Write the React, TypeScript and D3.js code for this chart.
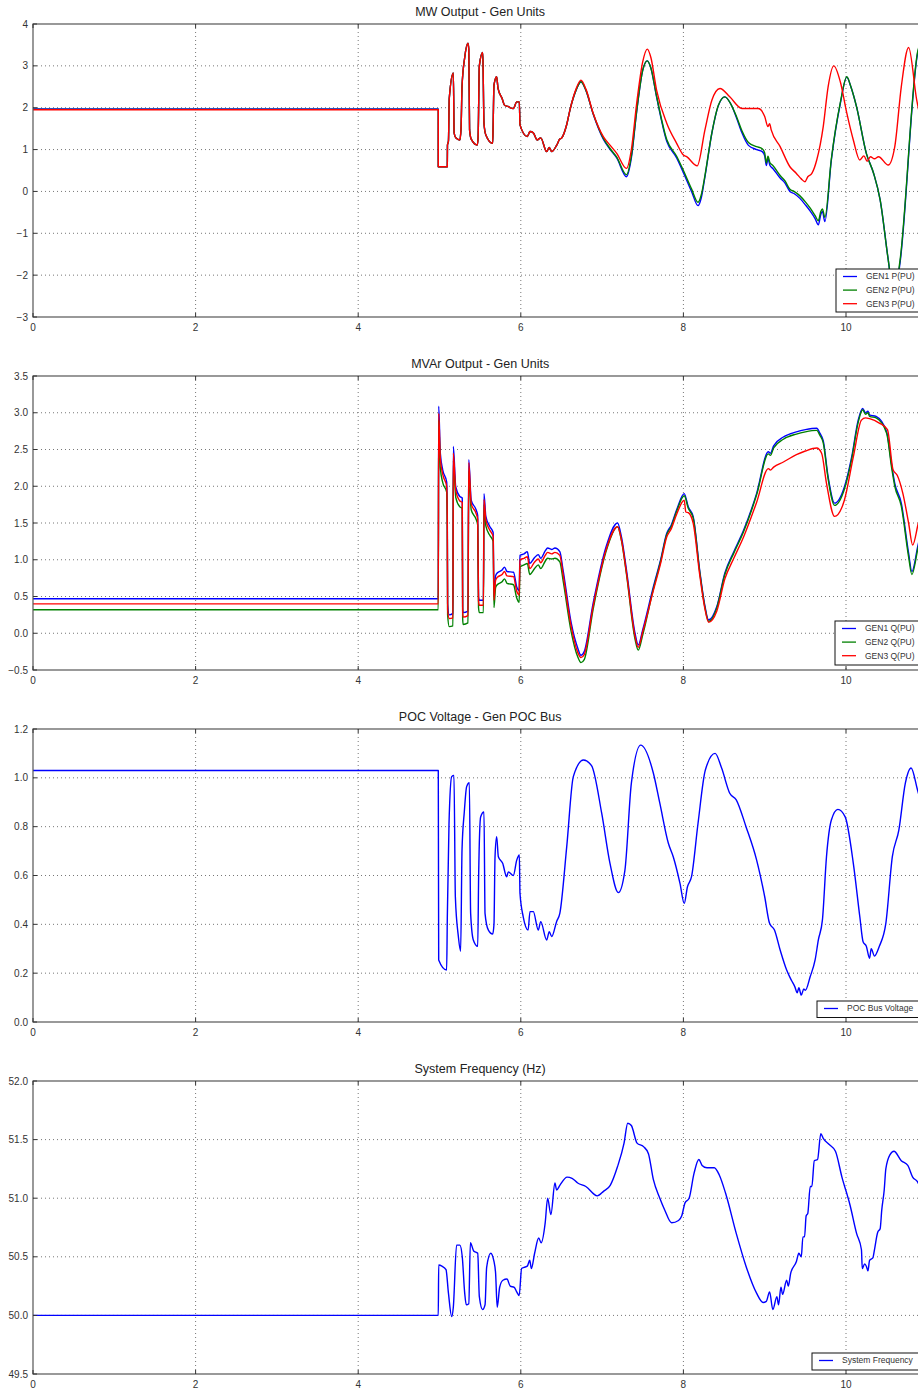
import React from 'react'
import * as d3 from 'd3'

type Pt = [number, number]

// time axis ticks (s)
const xTicks = [0, 2, 4, 6, 8, 10]

// MW output: during the fault burst all three units overlap
const pFault: Pt[] = [
  [4.985, 0.59], [5.096, 0.59], [5.098, 1.11], [5.11, 1.2], [5.12, 2.22], [5.17, 2.83], [5.18, 1.4],
  [5.2, 1.28], [5.25, 1.23], [5.265, 1.5], [5.277, 2.5], [5.31, 3.2], [5.35, 3.54], [5.36, 3.4],
  [5.37, 1.47], [5.39, 1.25], [5.465, 1.11], [5.475, 1.3], [5.49, 3.0], [5.53, 3.32], [5.535, 3.1],
  [5.547, 1.63], [5.57, 1.35], [5.654, 1.15], [5.66, 1.6], [5.67, 2.54], [5.703, 2.74], [5.72, 2.46],
  [5.77, 2.22], [5.8, 2.06], [5.84, 2.03], [5.908, 1.98], [5.95, 2.14], [5.982, 2.14], [5.99, 1.59],
  [6.08, 1.31], [6.113, 1.43], [6.154, 1.4], [6.2, 1.23], [6.245, 1.28], [6.318, 0.95], [6.35, 1.05],
  [6.38, 0.95], [6.44, 1.1], [6.48, 1.25], [6.5, 1.27], [6.565, 1.6], [6.605, 1.95],
]

const gen1P: Pt[] = [
  [0, 1.97], [4.985, 1.97], ...pFault,
  [6.68, 2.42], [6.74, 2.62], [6.8, 2.42], [6.89, 1.85], [7.015, 1.25], [7.1, 1.0], [7.18, 0.8],
  [7.3, 0.35], [7.36, 0.8], [7.425, 1.9], [7.5, 2.9], [7.556, 3.12], [7.6, 2.95], [7.67, 2.26],
  [7.795, 1.2], [7.917, 0.8], [8.0, 0.45], [8.1, 0.0], [8.18, -0.34], [8.22, -0.15], [8.265, 0.35],
  [8.35, 1.39], [8.43, 2.05], [8.51, 2.26], [8.58, 2.1], [8.655, 1.75], [8.72, 1.4], [8.8, 1.1],
  [8.9, 1.0], [8.97, 0.95], [9.0, 0.85], [9.02, 0.62], [9.04, 0.78], [9.065, 0.62], [9.1, 0.55],
  [9.19, 0.32], [9.25, 0.2], [9.31, 0.0], [9.36, -0.05], [9.43, -0.16], [9.5, -0.32], [9.56, -0.47],
  [9.62, -0.65], [9.66, -0.8], [9.69, -0.55], [9.71, -0.48], [9.74, -0.72], [9.82, 0.75], [9.93, 2.1],
  [10.01, 2.73], [10.06, 2.5], [10.13, 2.02], [10.25, 0.91], [10.34, 0.43], [10.42, -0.2],
  [10.52, -1.64], [10.59, -2.55], [10.665, -1.7], [10.886, 3.34], [11, 3.75],
]

const gen2P: Pt[] = [
  [0, 1.96], [4.985, 1.96], ...pFault,
  [6.68, 2.42], [6.74, 2.62], [6.8, 2.42], [6.89, 1.86], [7.015, 1.27], [7.1, 1.02], [7.18, 0.82],
  [7.3, 0.4], [7.36, 0.85], [7.425, 1.92], [7.5, 2.9], [7.556, 3.12], [7.6, 2.95], [7.67, 2.28],
  [7.795, 1.24], [7.917, 0.84], [8.0, 0.5], [8.1, 0.06], [8.18, -0.26], [8.22, -0.08], [8.265, 0.38],
  [8.35, 1.4], [8.43, 2.06], [8.51, 2.26], [8.58, 2.1], [8.655, 1.78], [8.72, 1.45], [8.8, 1.17],
  [8.9, 1.07], [8.97, 1.02], [9.0, 0.92], [9.02, 0.68], [9.04, 0.84], [9.065, 0.68], [9.1, 0.62],
  [9.19, 0.38], [9.25, 0.25], [9.31, 0.05], [9.36, 0.0], [9.43, -0.1], [9.5, -0.25], [9.56, -0.4],
  [9.62, -0.58], [9.66, -0.7], [9.69, -0.48], [9.71, -0.42], [9.74, -0.62], [9.82, 0.78], [9.93, 2.12],
  [10.01, 2.74], [10.06, 2.5], [10.13, 2.02], [10.25, 0.91], [10.34, 0.43], [10.42, -0.2],
  [10.52, -1.64], [10.59, -2.5], [10.665, -1.64], [10.886, 3.38], [11, 3.8],
]

const gen3P: Pt[] = [
  [0, 1.95], [4.985, 1.95], ...pFault,
  [6.68, 2.45], [6.74, 2.66], [6.8, 2.45], [6.89, 1.87], [7.015, 1.31], [7.1, 1.1], [7.18, 0.91],
  [7.3, 0.55], [7.36, 1.0], [7.425, 2.1], [7.5, 3.1], [7.556, 3.4], [7.6, 3.2], [7.67, 2.42],
  [7.795, 1.63], [7.917, 1.15], [8.0, 0.87], [8.04, 0.83], [8.17, 0.61], [8.265, 1.47], [8.35, 2.18],
  [8.45, 2.46], [8.57, 2.26], [8.72, 1.98], [8.92, 1.98], [9.0, 1.79], [9.04, 1.55], [9.06, 1.62],
  [9.08, 1.47], [9.19, 1.07], [9.31, 0.59], [9.39, 0.43], [9.45, 0.3], [9.495, 0.23], [9.53, 0.35],
  [9.58, 0.43], [9.64, 0.75], [9.72, 1.55], [9.78, 2.5], [9.85, 3.0], [9.93, 2.62], [10.01, 1.87],
  [10.09, 1.23], [10.17, 0.75], [10.22, 0.85], [10.26, 0.72], [10.3, 0.83], [10.35, 0.78], [10.4, 0.83],
  [10.52, 0.63], [10.6, 1.07], [10.68, 2.5], [10.77, 3.44], [10.87, 2.18], [10.95, 1.5], [11, 1.2],
]

// MVAr output
const gen1Q: Pt[] = [
  [0, 0.47], [4.985, 0.47], [4.99, 3.09], [5.01, 2.45], [5.04, 2.22], [5.088, 2.06], [5.096, 1.6],
  [5.1, 0.4], [5.12, 0.25], [5.165, 0.27], [5.17, 2.54], [5.2, 1.99], [5.25, 1.86], [5.28, 1.84],
  [5.285, 0.35], [5.29, 0.28], [5.35, 0.3], [5.36, 2.36], [5.39, 1.81], [5.45, 1.68], [5.47, 1.6],
  [5.48, 0.5], [5.49, 0.45], [5.54, 0.45], [5.547, 1.9], [5.57, 1.59], [5.62, 1.45], [5.66, 1.37],
  [5.67, 0.5], [5.69, 0.78], [5.71, 0.82], [5.77, 0.86], [5.8, 0.9], [5.83, 0.84], [5.91, 0.83],
  [5.95, 0.63], [5.98, 0.58], [5.99, 1.06], [6.04, 1.08], [6.08, 1.11], [6.11, 0.95], [6.17, 1.03],
  [6.215, 1.07], [6.245, 1.02], [6.3, 1.12], [6.33, 1.16], [6.38, 1.14], [6.42, 1.16], [6.48, 1.11],
  [6.52, 0.86], [6.62, 0.14], [6.7, -0.2], [6.74, -0.3], [6.78, -0.25], [6.89, 0.41], [7.05, 1.18],
  [7.19, 1.5], [7.24, 1.3], [7.3, 0.86], [7.405, 0.0], [7.445, -0.16], [7.5, 0.05], [7.63, 0.63],
  [7.72, 1.0], [7.795, 1.36], [7.85, 1.47], [7.917, 1.68], [8.01, 1.9], [8.06, 1.72], [8.12, 1.59],
  [8.2, 0.86], [8.26, 0.4], [8.31, 0.18], [8.41, 0.36], [8.51, 0.82], [8.62, 1.11], [8.74, 1.4],
  [8.9, 1.9], [9.045, 2.47], [9.07, 2.45], [9.11, 2.55], [9.23, 2.67], [9.39, 2.74], [9.5, 2.77],
  [9.64, 2.79], [9.68, 2.72], [9.72, 2.62], [9.78, 2.13], [9.86, 1.77], [9.98, 1.99], [10.07, 2.4],
  [10.15, 2.9], [10.205, 3.06], [10.24, 3.0], [10.27, 3.02], [10.29, 2.97], [10.37, 2.95], [10.5, 2.74],
  [10.56, 2.3], [10.6, 2.04], [10.68, 1.77], [10.77, 1.09], [10.81, 0.84], [10.89, 1.22], [11, 1.6],
]

const gen2Q: Pt[] = [
  [0, 0.32], [4.985, 0.32], [4.99, 2.9], [5.01, 2.25], [5.04, 2.05], [5.088, 1.92], [5.096, 1.4],
  [5.1, 0.25], [5.12, 0.09], [5.165, 0.1], [5.17, 2.35], [5.2, 1.85], [5.25, 1.72], [5.28, 1.7],
  [5.285, 0.2], [5.29, 0.12], [5.35, 0.14], [5.36, 2.2], [5.39, 1.68], [5.45, 1.55], [5.47, 1.47],
  [5.48, 0.35], [5.49, 0.28], [5.54, 0.28], [5.547, 1.75], [5.57, 1.46], [5.62, 1.33], [5.66, 1.25],
  [5.67, 0.35], [5.69, 0.62], [5.71, 0.66], [5.77, 0.7], [5.8, 0.74], [5.83, 0.68], [5.91, 0.66],
  [5.95, 0.48], [5.98, 0.42], [5.99, 0.9], [6.04, 0.93], [6.08, 0.95], [6.11, 0.8], [6.17, 0.88],
  [6.215, 0.93], [6.245, 0.88], [6.3, 0.98], [6.33, 1.02], [6.38, 1.01], [6.42, 1.02], [6.48, 0.97],
  [6.52, 0.72], [6.62, 0.02], [6.7, -0.32], [6.74, -0.4], [6.78, -0.36], [6.89, 0.33], [7.05, 1.12],
  [7.19, 1.45], [7.24, 1.25], [7.3, 0.8], [7.405, -0.08], [7.445, -0.23], [7.5, -0.02], [7.63, 0.6],
  [7.72, 0.98], [7.795, 1.34], [7.85, 1.45], [7.917, 1.66], [8.01, 1.87], [8.06, 1.7], [8.12, 1.57],
  [8.2, 0.84], [8.26, 0.38], [8.31, 0.16], [8.41, 0.34], [8.51, 0.8], [8.62, 1.09], [8.74, 1.38],
  [8.9, 1.88], [9.045, 2.44], [9.07, 2.42], [9.11, 2.52], [9.23, 2.64], [9.39, 2.71], [9.5, 2.74],
  [9.64, 2.76], [9.68, 2.69], [9.72, 2.59], [9.78, 2.1], [9.86, 1.74], [9.98, 1.96], [10.07, 2.37],
  [10.15, 2.87], [10.205, 3.04], [10.24, 2.98], [10.27, 3.0], [10.29, 2.95], [10.37, 2.93], [10.5, 2.72],
  [10.56, 2.26], [10.6, 2.0], [10.68, 1.73], [10.77, 1.04], [10.81, 0.8], [10.89, 1.18], [11, 1.55],
]

const gen3Q: Pt[] = [
  [0, 0.4], [4.985, 0.4], [4.99, 2.99], [5.01, 2.38], [5.04, 2.16], [5.088, 2.0], [5.096, 1.5],
  [5.1, 0.32], [5.12, 0.2], [5.165, 0.21], [5.17, 2.45], [5.2, 1.94], [5.25, 1.8], [5.28, 1.78],
  [5.285, 0.3], [5.29, 0.22], [5.35, 0.24], [5.36, 2.32], [5.39, 1.76], [5.45, 1.63], [5.47, 1.55],
  [5.48, 0.44], [5.49, 0.38], [5.54, 0.38], [5.547, 1.82], [5.57, 1.54], [5.62, 1.4], [5.66, 1.32],
  [5.67, 0.45], [5.69, 0.72], [5.71, 0.76], [5.77, 0.8], [5.8, 0.84], [5.83, 0.78], [5.91, 0.77],
  [5.95, 0.57], [5.98, 0.52], [5.99, 1.0], [6.04, 1.02], [6.08, 1.04], [6.11, 0.88], [6.17, 0.97],
  [6.215, 1.01], [6.245, 0.96], [6.3, 1.06], [6.33, 1.1], [6.38, 1.08], [6.42, 1.1], [6.48, 1.06],
  [6.52, 0.8], [6.62, 0.09], [6.7, -0.26], [6.74, -0.33], [6.78, -0.29], [6.89, 0.37], [7.05, 1.14],
  [7.19, 1.45], [7.24, 1.26], [7.3, 0.82], [7.405, -0.04], [7.445, -0.19], [7.5, 0.02], [7.63, 0.58],
  [7.72, 0.95], [7.795, 1.31], [7.85, 1.42], [7.917, 1.62], [8.01, 1.81], [8.03, 1.65], [8.06, 1.64],
  [8.12, 1.5], [8.2, 0.8], [8.26, 0.36], [8.31, 0.15], [8.41, 0.3], [8.51, 0.74], [8.62, 1.02],
  [8.74, 1.31], [8.9, 1.78], [9.045, 2.24], [9.07, 2.22], [9.11, 2.26], [9.23, 2.33], [9.39, 2.43],
  [9.5, 2.48], [9.64, 2.52], [9.7, 2.45], [9.76, 2.04], [9.86, 1.59], [9.98, 1.81], [10.09, 2.4],
  [10.19, 2.9], [10.24, 2.93], [10.29, 2.92], [10.41, 2.86], [10.51, 2.77], [10.58, 2.22], [10.63, 2.15],
  [10.7, 1.9], [10.77, 1.5], [10.82, 1.2], [10.89, 1.5], [11, 1.9],
]

// POC bus voltage (pu)
const pocVolt: Pt[] = [
  [0, 1.03], [4.985, 1.03], [4.99, 0.254], [5.088, 0.213], [5.096, 0.425], [5.117, 0.814], [5.15, 1.005],
  [5.178, 1.01], [5.195, 0.513], [5.232, 0.35], [5.26, 0.29], [5.277, 0.705], [5.305, 0.86],
  [5.334, 0.964], [5.367, 0.98], [5.383, 0.445], [5.416, 0.336], [5.47, 0.31], [5.482, 0.61],
  [5.506, 0.84], [5.547, 0.86], [5.56, 0.445], [5.6, 0.377], [5.654, 0.36], [5.67, 0.4], [5.683, 0.677],
  [5.703, 0.759], [5.724, 0.677], [5.777, 0.65], [5.826, 0.595], [5.847, 0.615], [5.908, 0.6],
  [5.95, 0.663], [5.982, 0.684], [5.99, 0.527], [6.03, 0.431], [6.09, 0.377], [6.113, 0.452],
  [6.154, 0.452], [6.215, 0.377], [6.245, 0.411], [6.318, 0.336], [6.35, 0.37], [6.38, 0.35],
  [6.44, 0.411], [6.48, 0.445], [6.565, 0.718], [6.646, 1.005], [6.77, 1.073], [6.87, 1.05],
  [6.995, 0.855], [7.097, 0.65], [7.2, 0.53], [7.28, 0.62], [7.36, 0.978], [7.475, 1.134], [7.63, 1.02],
  [7.71, 0.896], [7.815, 0.732], [7.875, 0.677], [7.958, 0.568], [8.01, 0.486], [8.05, 0.554],
  [8.1, 0.595], [8.18, 0.814], [8.27, 1.032], [8.39, 1.1], [8.47, 1.04], [8.57, 0.937], [8.65, 0.91],
  [8.77, 0.8], [8.9, 0.664], [9.0, 0.513], [9.06, 0.404], [9.12, 0.377], [9.19, 0.295], [9.27, 0.213],
  [9.33, 0.17], [9.37, 0.145], [9.4, 0.12], [9.42, 0.14], [9.45, 0.11], [9.48, 0.135], [9.5, 0.13],
  [9.56, 0.186], [9.62, 0.254], [9.66, 0.336], [9.71, 0.418], [9.76, 0.677], [9.82, 0.827],
  [9.9, 0.871], [9.99, 0.84], [10.09, 0.65], [10.17, 0.431], [10.21, 0.329], [10.25, 0.31],
  [10.29, 0.261], [10.31, 0.3], [10.35, 0.27], [10.41, 0.31], [10.49, 0.404], [10.57, 0.677],
  [10.65, 0.786], [10.73, 0.978], [10.8, 1.04], [10.88, 0.95], [11, 0.8],
]

// System frequency (Hz)
const sysFreq: Pt[] = [
  [0, 50.0], [4.985, 50.0], [4.99, 50.43], [5.03, 50.42], [5.08, 50.39], [5.11, 50.19], [5.15, 49.99],
  [5.17, 50.07], [5.21, 50.6], [5.25, 50.6], [5.28, 50.5], [5.31, 50.19], [5.33, 50.09], [5.36, 50.1],
  [5.38, 50.62], [5.42, 50.55], [5.47, 50.53], [5.49, 50.16], [5.53, 50.05], [5.56, 50.09],
  [5.58, 50.41], [5.63, 50.53], [5.67, 50.46], [5.69, 50.36], [5.71, 50.07], [5.74, 50.24],
  [5.78, 50.3], [5.83, 50.31], [5.87, 50.25], [5.92, 50.24], [5.95, 50.2], [5.98, 50.17], [6.01, 50.4],
  [6.04, 50.41], [6.08, 50.42], [6.11, 50.47], [6.13, 50.4], [6.17, 50.53], [6.22, 50.66],
  [6.25, 50.62], [6.3, 50.79], [6.33, 51.0], [6.37, 50.86], [6.42, 51.13], [6.44, 51.07],
  [6.48, 51.11], [6.57, 51.18], [6.63, 51.17], [6.7, 51.13], [6.8, 51.1], [6.94, 51.02], [7.02, 51.06],
  [7.1, 51.11], [7.19, 51.27], [7.27, 51.47], [7.315, 51.64], [7.36, 51.62], [7.43, 51.47],
  [7.51, 51.44], [7.57, 51.38], [7.63, 51.16], [7.71, 51.0], [7.77, 50.9], [7.855, 50.79],
  [7.94, 50.81], [7.98, 50.85], [8.02, 50.96], [8.07, 51.0], [8.13, 51.21], [8.19, 51.33],
  [8.23, 51.28], [8.29, 51.26], [8.38, 51.26], [8.44, 51.2], [8.52, 51.04], [8.65, 50.7],
  [8.77, 50.42], [8.9, 50.19], [8.98, 50.11], [9.02, 50.12], [9.06, 50.2], [9.1, 50.05], [9.15, 50.16],
  [9.17, 50.09], [9.2, 50.24], [9.22, 50.18], [9.27, 50.3], [9.29, 50.25], [9.32, 50.36],
  [9.39, 50.46], [9.42, 50.53], [9.45, 50.5], [9.47, 50.67], [9.49, 50.67], [9.51, 50.85],
  [9.53, 50.87], [9.56, 51.1], [9.58, 51.1], [9.61, 51.32], [9.65, 51.33], [9.69, 51.55],
  [9.72, 51.51], [9.79, 51.46], [9.87, 51.4], [9.95, 51.18], [10.05, 50.94], [10.13, 50.7],
  [10.19, 50.56], [10.2, 50.4], [10.23, 50.44], [10.25, 50.42], [10.27, 50.38], [10.29, 50.47],
  [10.33, 50.49], [10.35, 50.56], [10.39, 50.71], [10.42, 50.74], [10.44, 50.9], [10.47, 51.07],
  [10.49, 51.25], [10.54, 51.37], [10.59, 51.4], [10.68, 51.32], [10.76, 51.28], [10.82, 51.18],
  [10.88, 51.14], [11, 50.9],
]

const FONT = '"Liberation Sans", Arial, Helvetica, sans-serif'
const W = 918
const H = 1390

const xScale = d3.scaleLinear().domain([0, 11]).range([33, 927.3])

interface Series {
  name: string
  color: string
  data: Pt[]
}

interface PanelProps {
  id: string
  title: string
  top: number
  height: number
  yDomain: [number, number]
  yTicks: number[]
  fmt: (v: number) => string
  series: Series[]
  legend: { x: number; y: number; w: number; h: number }
}

const Panel: React.FC<PanelProps> = ({ id, title, top, height, yDomain, yTicks, fmt, series, legend }) => {
  const left = xScale.range()[0]
  const right = xScale.range()[1]
  const bottom = top + height
  const y = d3.scaleLinear().domain(yDomain).range([bottom, top])
  const line = d3
    .line<Pt>()
    .x(d => xScale(d[0]))
    .y(d => y(d[1]))
    .curve(d3.curveMonotoneX)

  const rowGap = series.length > 1 ? 13.6 : 0
  return (
    <g>
      <defs>
        <clipPath id={`clip-${id}`}>
          <rect x={left} y={top} width={right - left} height={height} />
        </clipPath>
      </defs>
      <text x={(left + right) / 2} y={top - 8} textAnchor="middle" fontSize={12.5} fill="#222">
        {title}
      </text>
      {/* grid */}
      {xTicks.slice(1).map(t => (
        <line key={`gx${t}`} x1={xScale(t)} x2={xScale(t)} y1={top} y2={bottom}
          stroke="#777" strokeWidth={1} strokeDasharray="1,3" />
      ))}
      {yTicks.slice(1, -1).map(v => (
        <line key={`gy${v}`} x1={left} x2={right} y1={y(v)} y2={y(v)}
          stroke="#777" strokeWidth={1} strokeDasharray="1,3" />
      ))}
      {/* data */}
      <g clipPath={`url(#clip-${id})`}>
        {series.map(s => (
          <path key={s.name} d={line(s.data) || ''} fill="none" stroke={s.color} strokeWidth={1.4}
            strokeLinejoin="round" />
        ))}
      </g>
      {/* frame + ticks */}
      <rect x={left} y={top} width={right - left} height={height} fill="none" stroke="#555" strokeWidth={1.2} />
      {xTicks.map(t => (
        <g key={`tx${t}`}>
          <line x1={xScale(t)} x2={xScale(t)} y1={bottom} y2={bottom - 4} stroke="#333" />
          <line x1={xScale(t)} x2={xScale(t)} y1={top} y2={top + 4} stroke="#333" />
          <text x={xScale(t)} y={bottom + 14} textAnchor="middle" fontSize={10} fill="#333">
            {t}
          </text>
        </g>
      ))}
      {yTicks.map(v => (
        <g key={`ty${v}`}>
          <line x1={left} x2={left + 4} y1={y(v)} y2={y(v)} stroke="#333" />
          <text x={28} y={y(v)} dy="0.35em" textAnchor="end" fontSize={10} fill="#333">
            {fmt(v)}
          </text>
        </g>
      ))}
      {/* legend */}
      <rect x={legend.x} y={legend.y} width={legend.w} height={legend.h} fill="#fff" stroke="#111" strokeWidth={1} />
      {series.map((s, i) => {
        const ly = legend.y + 7.5 + i * rowGap
        return (
          <g key={`lg${s.name}`}>
            <line x1={legend.x + 7} x2={legend.x + 21} y1={ly} y2={ly} stroke={s.color} strokeWidth={1.3} />
            <text x={legend.x + 30} y={ly} dy="0.35em" fontSize={8.5} fill="#333">
              {s.name}
            </text>
          </g>
        )
      })}
    </g>
  )
}

const fmtInt = d3.format('d')
const fmt1 = d3.format('.1f')

export default function App() {
  return (
    <svg width={W} height={H} style={{ position: 'absolute', left: 0, top: 0, background: '#fff' }}
      fontFamily={FONT}>
      <Panel
        id="mw"
        title="MW Output - Gen Units"
        top={24}
        height={293}
        yDomain={[-3, 4]}
        yTicks={d3.range(-3, 4.001, 1)}
        fmt={fmtInt}
        series={[
          { name: 'GEN1 P(PU)', color: '#0000ff', data: gen1P },
          { name: 'GEN2 P(PU)', color: '#008000', data: gen2P },
          { name: 'GEN3 P(PU)', color: '#ff0000', data: gen3P },
        ]}
        legend={{ x: 836, y: 269, w: 100, h: 43 }}
      />
      <Panel
        id="mvar"
        title="MVAr Output - Gen Units"
        top={376}
        height={294}
        yDomain={[-0.5, 3.5]}
        yTicks={d3.range(-0.5, 3.501, 0.5)}
        fmt={fmt1}
        series={[
          { name: 'GEN1 Q(PU)', color: '#0000ff', data: gen1Q },
          { name: 'GEN2 Q(PU)', color: '#008000', data: gen2Q },
          { name: 'GEN3 Q(PU)', color: '#ff0000', data: gen3Q },
        ]}
        legend={{ x: 835, y: 621, w: 100, h: 44 }}
      />
      <Panel
        id="volt"
        title="POC Voltage - Gen POC Bus"
        top={729}
        height={293}
        yDomain={[0, 1.2]}
        yTicks={d3.range(0, 1.2001, 0.2)}
        fmt={fmt1}
        series={[{ name: 'POC Bus Voltage', color: '#0000ff', data: pocVolt }]}
        legend={{ x: 817, y: 1001, w: 120, h: 16.5 }}
      />
      <Panel
        id="freq"
        title="System Frequency (Hz)"
        top={1081}
        height={293}
        yDomain={[49.5, 52]}
        yTicks={d3.range(49.5, 52.001, 0.5)}
        fmt={fmt1}
        series={[{ name: 'System Frequency', color: '#0000ff', data: sysFreq }]}
        legend={{ x: 812, y: 1353, w: 120, h: 17 }}
      />
    </svg>
  )
}
